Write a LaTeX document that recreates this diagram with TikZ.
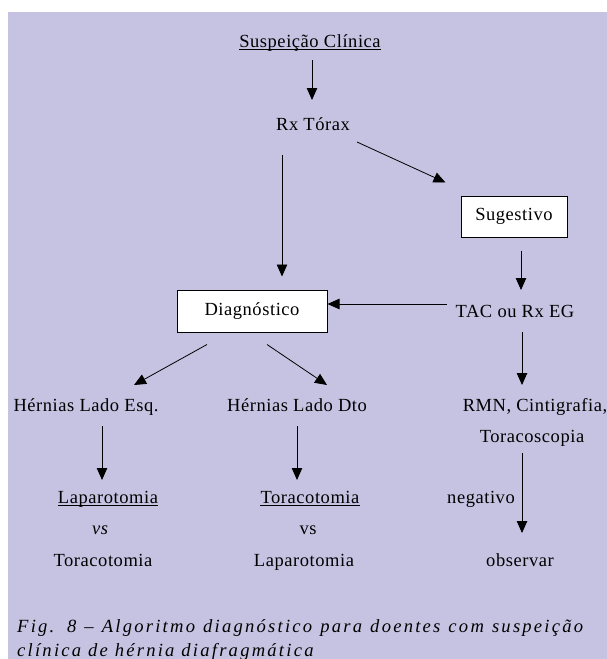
\documentclass[tikz,border=0pt]{standalone}
\usepackage{fontspec}
\setmainfont[LetterSpace=3]{Liberation Serif}
\newfontfamily\capfont[LetterSpace=12]{Liberation Serif}
\usetikzlibrary{arrows.meta,calc}
\definecolor{lavender}{RGB}{198,195,226}

\begin{document}
\begin{tikzpicture}[x=1pt,y=-1pt,
    txt/.style={inner sep=0pt,anchor=base,font=\fontsize{18.5}{22}\selectfont},
    box/.style={draw,fill=white,line width=1pt,inner sep=0pt,font=\fontsize{18.5}{22}\selectfont},
    arr/.style={line width=0.8pt,-{Triangle[length=12pt,width=10.5pt]}},
    uline/.style={line width=0.7pt},
    captxt/.style={inner sep=0pt,anchor=base west,font=\capfont\itshape\fontsize{18.6}{22}\selectfont}]
        \useasboundingbox (0,0) rectangle (607,659);
        % Background
        \fill[lavender] (8,12) rectangle (607,659);

        % Top
        \node[txt] (susp) at (310,47) {Suspeição Clínica};
        \draw[uline] ($(susp.base west)+(0,2)$) -- ($(susp.base east)+(0,2)$);
        \node[txt] (rx) at (313,130) {Rx Tórax};

        % Right branch
        \node[box,minimum width=106pt,minimum height=41pt] (sug) at (514,216.5) {Sugestivo};
        \node[txt] (tac) at (515,317) {TAC ou Rx EG};
        \node[txt] (rmn) at (535,411) {RMN, Cintigrafia,};
        \node[txt] (torac) at (532,442) {Toracoscopia};
        \node[txt,anchor=base east] (neg) at (515,503) {negativo};
        \node[txt] (obs) at (520,566) {observar};

        % Diagnostico
        \node[box,minimum width=150pt,minimum height=42pt] (diag) at (252,311) {Diagnóstico};
        \node[txt] (hesq) at (86,411) {Hérnias Lado Esq.};
        \node[txt] (hdto) at (297,411) {Hérnias Lado Dto};

        % Left column
        \node[txt] (lap1) at (108,503) {Laparotomia};
        \draw[uline] ($(lap1.base west)+(0,2)$) -- ($(lap1.base east)+(0,2)$);
        \node[txt] (vs1) at (100,534) {\itshape vs};
        \node[txt] (tor1) at (103,566) {Toracotomia};

        % Middle column
        \node[txt] (tor2) at (310,503) {Toracotomia};
        \draw[uline] ($(tor2.base west)+(0,2)$) -- ($(tor2.base east)+(0,2)$);
        \node[txt] (vs2) at (308,534) {vs};
        \node[txt] (lap2) at (304,566) {Laparotomia};

        % Arrows
        \draw[arr] ($(susp.base)+(2,13)$) -- ($(rx.base)+(-1,-30)$);
        \draw[arr] ($(rx.base)+(44,12)$) -- ($(sug.north west)+(-15,-13)$);
        \draw[arr] ($(rx.base)+(-31,25)$) -- ($(diag.north)+(30,-13)$);
        \draw[arr] ($(sug.south)+(7,13)$) -- ($(tac.base)+(6,-27)$);
        \draw[arr] ($(tac.base west)+(-9,-13)$) -- ($(diag.east)+(0,-7)$);
        \draw[arr] ($(diag.south)+(-45,12)$) -- ($(hesq.base)+(48,-26)$);
        \draw[arr] ($(diag.south)+(15,12)$) -- ($(hdto.base)+(30,-26)$);
        \draw[arr] ($(tac.base)+(7,15)$) -- ($(rmn.base)+(-13,-26)$);
        \draw[arr] ($(hesq.base)+(16,15)$) -- ($(lap1.base)+(-6,-23)$);
        \draw[arr] ($(hdto.base)+(0,15)$) -- ($(tor2.base)+(-13,-23)$);
        \draw[arr] ($(torac.base)+(-10,11)$) -- ($(obs.base)+(2,-33)$);

        % Caption
        \node[captxt] (cap1) at (17,632) {\makebox[566pt][s]{Fig. 8 – Algoritmo diagnóstico para doentes com suspeição}};
        \node[captxt] (cap2) at (17,656) {clínica de hérnia diafragmática};
    \end{tikzpicture}
\end{document}
